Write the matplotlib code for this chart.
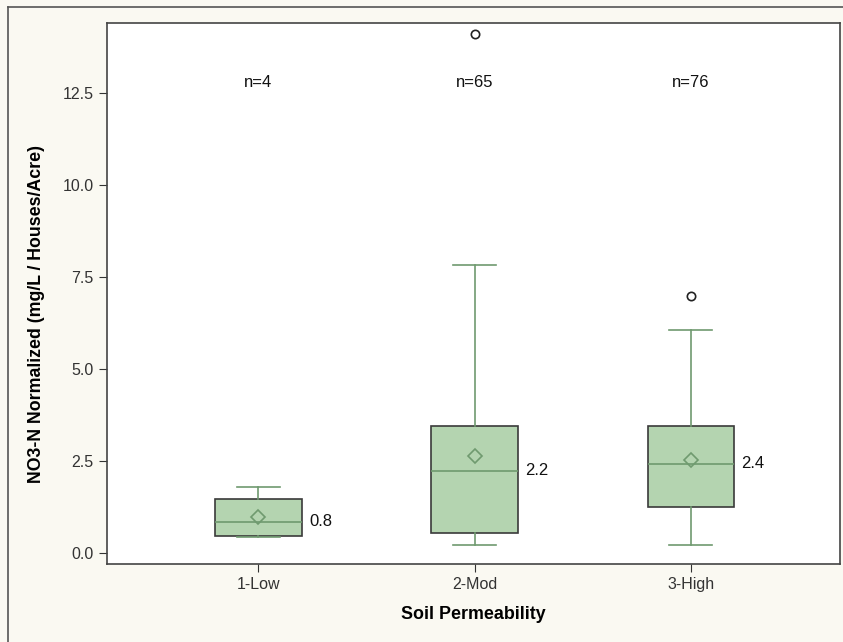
import matplotlib
matplotlib.use("Agg")
import matplotlib.pyplot as plt
from matplotlib.lines import Line2D
from matplotlib import font_manager

plt.rcParams['font.family'] = ['Liberation Sans', 'DejaVu Sans']
names = {f.name for f in font_manager.fontManager.ttflist}
narrow = 'Liberation Sans Narrow' in names

categories = ["1-Low", "2-Mod", "3-High"]
q1 = [0.46, 0.53, 1.25]
medians = [0.85, 2.24, 2.42]
q3 = [1.47, 3.46, 3.46]
whislo = [0.44, 0.22, 0.21]
whishi = [1.80, 7.83, 6.06]
means = [0.98, 2.64, 2.53]
outliers = [[], [14.10], [6.97]]
counts = [4, 65, 76]
median_labels = ["0.8", "2.2", "2.4"]
yticks = [0.0, 2.5, 5.0, 7.5, 10.0, 12.5]

fig = plt.figure(figsize=(8.43, 6.42), dpi=100)
fig.patch.set_facecolor("#FAF9F2")
ax = fig.add_axes([107/843, 1-564/642, (840-107)/843, (564-23)/642])
ax.set_facecolor("white")

# figure frame (top and left)
fig.add_artist(Line2D([8/843, 8/843], [0, 1-7/642], transform=fig.transFigure, color="#555555", lw=1.2))
fig.add_artist(Line2D([8/843, 1], [1-7/642, 1-7/642], transform=fig.transFigure, color="#555555", lw=1.2))

stats = []
for i in range(len(categories)):
    stats.append(dict(q1=q1[i], med=medians[i], q3=q3[i], whislo=whislo[i],
                      whishi=whishi[i], mean=means[i], fliers=outliers[i], label=categories[i]))

green = "#6F9A6F"
ax.bxp(stats, positions=range(len(categories)), widths=0.40, patch_artist=True,
       showmeans=True, showfliers=True,
       boxprops=dict(facecolor="#B4D4B0", edgecolor="#3A3A3A", lw=1.2),
       medianprops=dict(color=green, lw=1.2),
       whiskerprops=dict(color=green, lw=1.2),
       capprops=dict(color=green, lw=1.2),
       capwidths=0.20,
       meanprops=dict(marker="D", markerfacecolor="none", markeredgecolor=green, markersize=7, markeredgewidth=1.2),
       flierprops=dict(marker="o", markerfacecolor="none", markeredgecolor="#222222", markersize=6, markeredgewidth=1.2))

for i in range(len(categories)):
    ax.text(i, 12.77, f"n={counts[i]}", ha="center", va="center", fontsize=12, color="#111111")
    ax.text(i + 0.235, medians[i], median_labels[i], ha="left", va="center", fontsize=12, color="#111111")

ax.set_xlim(-0.70, 2.69)
ax.set_ylim(-0.30, 14.40)
ax.set_yticks(yticks)
ax.set_yticklabels([f"{v:.1f}" for v in yticks])
ax.set_xticks(range(len(categories)))
ax.set_xticklabels(categories)
ax.tick_params(axis="both", labelsize=11.5, colors="#333333", length=6, width=0.8)
for s in ax.spines.values():
    s.set_color("#444444")
    s.set_linewidth(1.2)

if narrow:
    lab_family = ['Liberation Sans Narrow', 'Liberation Sans']
    xl_size, yl_size = 14, 15
else:
    lab_family = ['Liberation Sans', 'DejaVu Sans']
    xl_size, yl_size = 12.9, 12.8
ax.set_xlabel("Soil Permeability", fontsize=xl_size, fontweight="bold", family=lab_family)
ax.set_ylabel("NO3-N Normalized (mg/L / Houses/Acre)", fontsize=yl_size, fontweight="bold", family=lab_family)
ax.xaxis.set_label_coords(0.5, -0.078)
ax.yaxis.set_label_coords(-0.085, 0.462)

fig.savefig("out.png", dpi=100, facecolor=fig.get_facecolor())
